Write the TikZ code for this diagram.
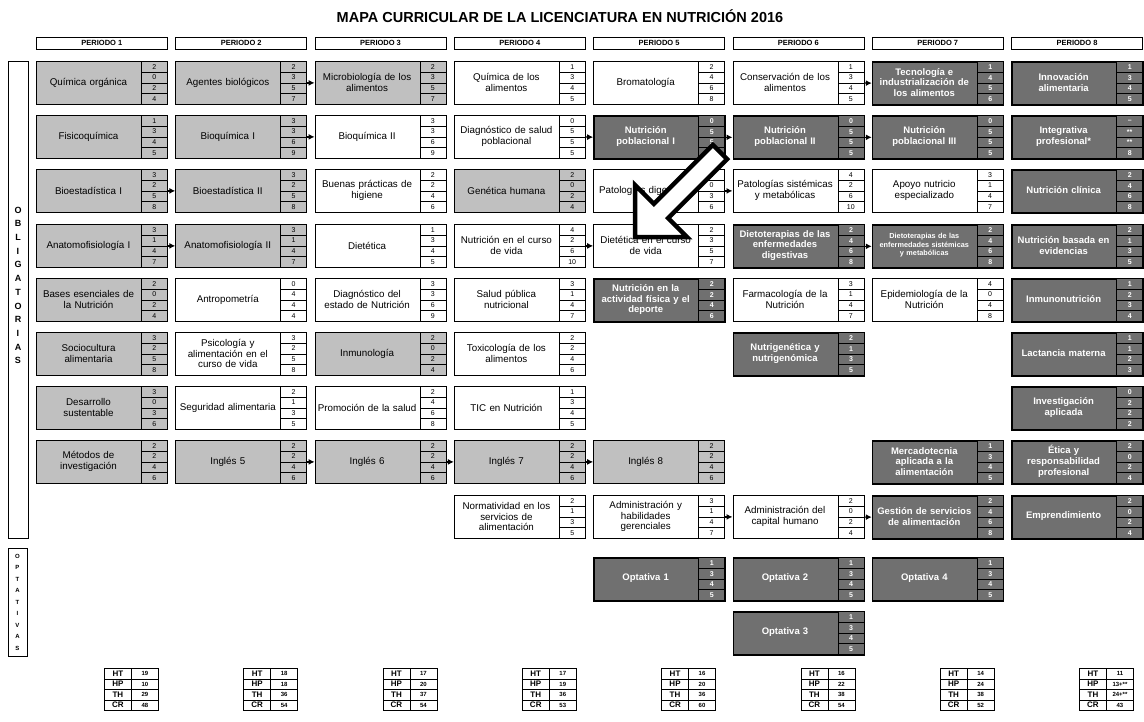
\documentclass[tikz,border=0pt]{standalone}
\usepackage{fontspec}
\setmainfont{Liberation Sans}
\usetikzlibrary{arrows.meta}

\definecolor{grisclaro}{RGB}{192,192,192}
\definecolor{grisoscuro}{RGB}{112,112,112}

\tikzset{
  caja/.style={draw,minimum width=131pt,minimum height=43pt,anchor=north west,inner sep=0pt},
  cajagris/.style={caja,fill=grisclaro,line width=0.8pt},
  cajablanca/.style={caja,fill=white,line width=0.8pt},
  cajaoscura/.style={caja,fill=grisoscuro,line width=1.6pt},
  cajachica/.style={cajaoscura},
  textogris/.style={text width=104pt,align=center,inner sep=0pt,font=\fontsize{9.8}{10.5}\selectfont},
  textoblanca/.style={textogris},
  textooscura/.style={text width=106pt,align=center,inner sep=0pt,text=white,font=\bfseries\fontsize{9.5}{10.8}\selectfont},
  textochica/.style={textooscura,font=\bfseries\fontsize{7.3}{8.5}\selectfont},
  num/.style={draw,minimum width=26pt,minimum height=10.75pt,anchor=north west,inner sep=0pt},
  numgris/.style={num,fill=grisclaro,line width=0.6pt,font=\fontsize{7}{7}\selectfont},
  numblanca/.style={num,fill=white,line width=0.6pt,font=\fontsize{7}{7}\selectfont},
  numoscura/.style={num,fill=grisoscuro,line width=1.2pt,text=white,font=\bfseries\fontsize{7}{7}\selectfont},
  numchica/.style={numoscura},
  periodo/.style={draw,line width=0.8pt,minimum width=131pt,minimum height=12pt,anchor=north west,inner sep=0pt,font=\bfseries\fontsize{7.5}{7.5}\selectfont},
  letra/.style={font=\bfseries\fontsize{9}{9}\selectfont,inner sep=0pt},
  letrachica/.style={font=\bfseries\fontsize{6}{6}\selectfont,inner sep=0pt},
  tabla/.style={draw,line width=0.7pt,minimum width=27pt,minimum height=10.5pt,anchor=north west,inner sep=0pt},
  flecha/.style={-{Latex[length=6pt,width=6pt]},line width=1.2pt}
}

\def\filas{{61,115,169,224,278,332,386,440,495,557,611}}

% materia: nombre, columna, fila, tipo, texto, HT, HP, TH, CR
\newcommand{\materia}[9]{%
  \pgfmathsetmacro{\mx}{36+139.3*(#2-1)}%
  \pgfmathsetmacro{\my}{\filas[#3-1]}%
  \node[caja#4] (#1) at (\mx,\my) {};
  \node[texto#4] (#1t) at (\mx+52.5,\my+21.5) {#5};
  \foreach \v [count=\i] in {#6,#7,#8,#9}
    \node[num#4] (#1n\i) at (\mx+105,{\my+10.75*(\i-1)}) {\v};
}

% totales por periodo
\newcommand{\totales}[5]{%
  \pgfmathsetmacro{\tx}{104+139.3*(#1-1)}%
  \foreach \e/\v [count=\i] in {HT/#2,HP/#3,TH/#4,CR/#5} {
    \node[tabla,font=\bfseries\fontsize{8}{8}\selectfont] (t#1e\i) at (\tx,{668+10.5*(\i-1)}) {\e};
    \node[tabla,font=\bfseries\fontsize{6}{6}\selectfont] (t#1v\i) at (\tx+27,{668+10.5*(\i-1)}) {\v};
  }
}

\begin{document}
\begin{tikzpicture}[x=1pt,y=-1pt]
  \useasboundingbox (0,0) rectangle (1144,721);

  \node[font=\bfseries\fontsize{14.5}{14.5}\selectfont] (titulo) at (560,16)
    {MAPA CURRICULAR DE LA LICENCIATURA EN NUTRICIÓN 2016};

  \foreach \c in {1,...,8}
    \node[periodo] (p\c) at ({36+139.3*(\c-1)},37) {PERIODO \c};

  % etiquetas laterales
  \node[draw,line width=0.8pt,minimum width=20pt,minimum height=477pt,anchor=north west] (oblig) at (8,61) {};
  \foreach \l [count=\i] in {O,B,L,I,G,A,T,O,R,I,A,S}
    \node[letra] (ob\i) at (18,{210+13.7*(\i-1)}) {\l};
  \node[draw,line width=0.8pt,minimum width=19pt,minimum height=108pt,anchor=north west] (optat) at (8,548) {};
  \foreach \l [count=\i] in {O,P,T,A,T,I,V,A,S}
    \node[letrachica] (op\i) at (17.5,{556+11.5*(\i-1)}) {\l};

  % periodo 1
  \materia{qorg}{1}{1}{gris}{Química orgánica}{2}{0}{2}{4}
  \materia{fisq}{1}{2}{gris}{Fisicoquímica}{1}{3}{4}{5}
  \materia{bioeA}{1}{3}{gris}{Bioestadística I}{3}{2}{5}{8}
  \materia{anatA}{1}{4}{gris}{Anatomofisiología I}{3}{1}{4}{7}
  \materia{bases}{1}{5}{gris}{Bases esenciales de\\la Nutrición}{2}{0}{2}{4}
  \materia{socio}{1}{6}{gris}{Sociocultura\\alimentaria}{3}{2}{5}{8}
  \materia{desa}{1}{7}{gris}{Desarrollo\\sustentable}{3}{0}{3}{6}
  \materia{metod}{1}{8}{gris}{Métodos de\\investigación}{2}{2}{4}{6}

  % periodo 2
  \materia{agbio}{2}{1}{gris}{Agentes biológicos}{2}{3}{5}{7}
  \materia{bioqA}{2}{2}{gris}{Bioquímica I}{3}{3}{6}{9}
  \materia{bioeB}{2}{3}{gris}{Bioestadística II}{3}{2}{5}{8}
  \materia{anatB}{2}{4}{gris}{Anatomofisiología II}{3}{1}{4}{7}
  \materia{antro}{2}{5}{blanca}{Antropometría}{0}{4}{4}{4}
  \materia{psico}{2}{6}{blanca}{Psicología y\\alimentación en el\\curso de vida}{3}{2}{5}{8}
  \materia{segal}{2}{7}{blanca}{Seguridad alimentaria}{2}{1}{3}{5}
  \materia{ingA}{2}{8}{gris}{Inglés 5}{2}{2}{4}{6}

  % periodo 3
  \materia{micro}{3}{1}{gris}{Microbiología de los\\alimentos}{2}{3}{5}{7}
  \materia{bioqB}{3}{2}{blanca}{Bioquímica II}{3}{3}{6}{9}
  \materia{buenas}{3}{3}{blanca}{Buenas prácticas de\\higiene}{2}{2}{4}{6}
  \materia{dietA}{3}{4}{blanca}{Dietética}{1}{3}{4}{5}
  \materia{diagE}{3}{5}{blanca}{Diagnóstico del\\estado de Nutrición}{3}{3}{6}{9}
  \materia{inmu}{3}{6}{gris}{Inmunología}{2}{0}{2}{4}
  \materia{promo}{3}{7}{blanca}{Promoción de la salud}{2}{4}{6}{8}
  \materia{ingB}{3}{8}{gris}{Inglés 6}{2}{2}{4}{6}

  % periodo 4
  \materia{qalim}{4}{1}{blanca}{Química de los\\alimentos}{1}{3}{4}{5}
  \materia{diagS}{4}{2}{blanca}{Diagnóstico de salud\\poblacional}{0}{5}{5}{5}
  \materia{genet}{4}{3}{gris}{Genética humana}{2}{0}{2}{4}
  \materia{ncurso}{4}{4}{blanca}{Nutrición en el curso\\de vida}{4}{2}{6}{10}
  \materia{salud}{4}{5}{blanca}{Salud pública\\nutricional}{3}{1}{4}{7}
  \materia{toxi}{4}{6}{blanca}{Toxicología de los\\alimentos}{2}{2}{4}{6}
  \materia{tic}{4}{7}{blanca}{TIC en Nutrición}{1}{3}{4}{5}
  \materia{ingC}{4}{8}{gris}{Inglés 7}{2}{2}{4}{6}
  \materia{norma}{4}{9}{blanca}{Normatividad en los\\servicios de\\alimentación}{2}{1}{3}{5}

  % periodo 5
  \materia{broma}{5}{1}{blanca}{Bromatología}{2}{4}{6}{8}
  \materia{npobA}{5}{2}{oscura}{Nutrición\\poblacional I}{0}{5}{5}{5}
  \materia{patoD}{5}{3}{blanca}{Patologías digestivas}{3}{0}{3}{6}
  \materia{dietB}{5}{4}{blanca}{Dietética en el curso\\de vida}{2}{3}{5}{7}
  \materia{activ}{5}{5}{oscura}{Nutrición en la\\actividad física y el\\deporte}{2}{2}{4}{6}
  \materia{ingD}{5}{8}{gris}{Inglés 8}{2}{2}{4}{6}
  \materia{admA}{5}{9}{blanca}{Administración y\\habilidades\\gerenciales}{3}{1}{4}{7}
  \materia{optA}{5}{10}{oscura}{Optativa 1}{1}{3}{4}{5}

  % periodo 6
  \materia{conse}{6}{1}{blanca}{Conservación de los\\alimentos}{1}{3}{4}{5}
  \materia{npobB}{6}{2}{oscura}{Nutrición\\poblacional II}{0}{5}{5}{5}
  \materia{patoS}{6}{3}{blanca}{Patologías sistémicas\\y metabólicas}{4}{2}{6}{10}
  \materia{dterA}{6}{4}{oscura}{Dietoterapias de las\\enfermedades\\digestivas}{2}{4}{6}{8}
  \materia{farma}{6}{5}{blanca}{Farmacología de la\\Nutrición}{3}{1}{4}{7}
  \materia{nutrig}{6}{6}{oscura}{Nutrigenética y\\nutrigenómica}{2}{1}{3}{5}
  \materia{admB}{6}{9}{blanca}{Administración del\\capital humano}{2}{0}{2}{4}
  \materia{optB}{6}{10}{oscura}{Optativa 2}{1}{3}{4}{5}
  \materia{optC}{6}{11}{oscura}{Optativa 3}{1}{3}{4}{5}

  % periodo 7
  \materia{tecno}{7}{1}{oscura}{Tecnología e\\industrialización de\\los alimentos}{1}{4}{5}{6}
  \materia{npobC}{7}{2}{oscura}{Nutrición\\poblacional III}{0}{5}{5}{5}
  \materia{apoyo}{7}{3}{blanca}{Apoyo nutricio\\especializado}{3}{1}{4}{7}
  \materia{dterB}{7}{4}{chica}{Dietoterapias de las\\enfermedades sistémicas\\y metabólicas}{2}{4}{6}{8}
  \materia{epide}{7}{5}{blanca}{Epidemiología de la\\Nutrición}{4}{0}{4}{8}
  \materia{merca}{7}{8}{oscura}{Mercadotecnia\\aplicada a la\\alimentación}{1}{3}{4}{5}
  \materia{gesti}{7}{9}{oscura}{Gestión de servicios\\de alimentación}{2}{4}{6}{8}
  \materia{optD}{7}{10}{oscura}{Optativa 4}{1}{3}{4}{5}

  % periodo 8
  \materia{innov}{8}{1}{oscura}{Innovación\\alimentaria}{1}{3}{4}{5}
  \materia{integ}{8}{2}{oscura}{Integrativa\\profesional*}{–}{**}{**}{8}
  \materia{nclin}{8}{3}{oscura}{Nutrición clínica}{2}{4}{6}{8}
  \materia{nevid}{8}{4}{oscura}{Nutrición basada en\\evidencias}{2}{1}{3}{5}
  \materia{inmun}{8}{5}{oscura}{Inmunonutrición}{1}{2}{3}{4}
  \materia{lacta}{8}{6}{oscura}{Lactancia materna}{1}{1}{2}{3}
  \materia{invap}{8}{7}{oscura}{Investigación\\aplicada}{0}{2}{2}{2}
  \materia{etica}{8}{8}{oscura}{Ética y\\responsabilidad\\profesional}{2}{0}{2}{4}
  \materia{empre}{8}{9}{oscura}{Emprendimiento}{2}{0}{2}{4}

  % seriaciones
  \draw[flecha] (agbio) -- (micro);
  \draw[flecha] (conse) -- (tecno);
  \draw[flecha] (bioqA) -- (bioqB);
  \draw[flecha] (diagS) -- (npobA);
  \draw[flecha] (npobA) -- (npobB);
  \draw[flecha] (npobB) -- (npobC);
  \draw[flecha] (bioeA) -- (bioeB);
  \draw[flecha] (patoD) -- (patoS);
  \draw[flecha] (anatA) -- (anatB);
  \draw[flecha] (ncurso) -- (dietB);
  \draw[flecha] (dterA) -- (dterB);
  \draw[flecha] (ingA) -- (ingB);
  \draw[flecha] (ingB) -- (ingC);
  \draw[flecha] (ingC) -- (ingD);
  \draw[flecha] (admA) -- (admB);
  \draw[flecha] (admB) -- (gesti);

  % totales
  \totales{1}{19}{10}{29}{48}
  \totales{2}{18}{18}{36}{54}
  \totales{3}{17}{20}{37}{54}
  \totales{4}{17}{19}{36}{53}
  \totales{5}{16}{20}{36}{60}
  \totales{6}{16}{22}{38}{54}
  \totales{7}{14}{24}{38}{52}
  \totales{8}{11}{13+**}{24+**}{43}

  % flecha grande
  \draw[line width=4.5pt,fill=white,line join=miter]
    (635,237) -- (687,237) -- (668.1,218.1) -- (727.1,159.1)
    -- (712.9,144.9) -- (653.9,203.9) -- (635,185) -- cycle;
\end{tikzpicture}
\end{document}
